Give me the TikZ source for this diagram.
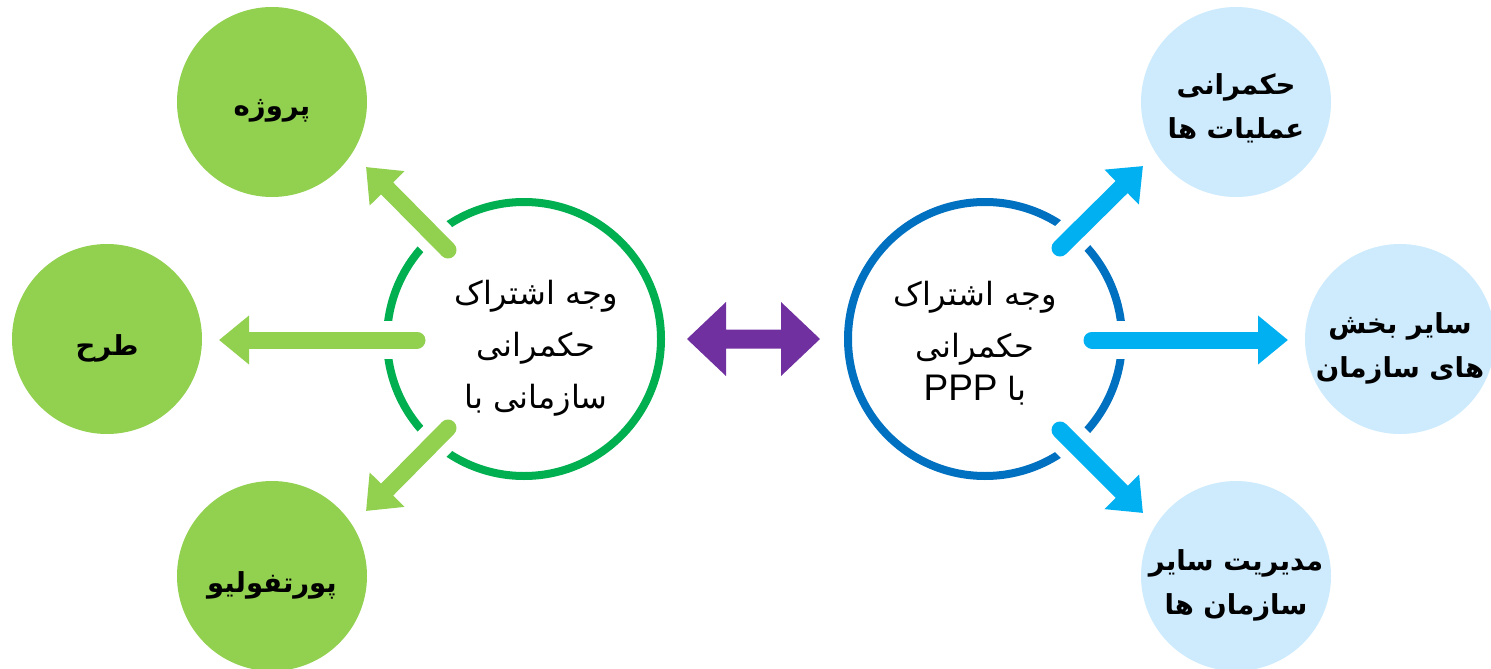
\documentclass[tikz,border=0pt]{standalone}
\usepackage{fontspec}
\usetikzlibrary{arrows.meta}
\TeXXeTstate=1
\newfontfamily\arabicfont[Script=Arabic]{DejaVu Sans}
\newfontfamily\latinfont{Liberation Sans}
\definecolor{lgreen}{HTML}{92D050}
\definecolor{rgreen}{HTML}{00B050}
\definecolor{rblue}{HTML}{0070C0}
\definecolor{ablue}{HTML}{00B0F0}
\definecolor{lblue}{HTML}{CDEBFD}
\definecolor{purp}{HTML}{7030A0}
\begin{document}
\begin{tikzpicture}[x=1pt,y=-1pt,
  ring/.style={circle, minimum size=274pt, inner sep=0pt, line width=8pt, fill=white},
  ringtext/.style={align=center, inner sep=0pt, font=\arabicfont\fontsize{32}{52}\selectfont},
  leaf/.style={circle, minimum size=190pt, inner sep=0pt},
  leaftext/.style={align=center, inner sep=0pt, font=\arabicfont\bfseries\fontsize{27.5}{44}\selectfont},
  gleaf/.style={leaf, fill=lgreen},
  bleaf/.style={leaf, fill=lblue},
  gapline/.style={draw=white, line width=38pt, shorten >=45pt},
  garrow/.style={draw=lgreen, line width=17pt, line cap=round, -{Triangle[length=30pt,width=47pt]}},
  barrow/.style={draw=ablue, line width=17pt, line cap=round, -{Triangle[length=30pt,width=47pt]}}
]
\useasboundingbox (0,0) rectangle (1491,669);
% small circles
\node[gleaf] (p1) at (272,102) {};
\node[gleaf] (p2) at (107,339) {};
\node[gleaf] (p3) at (272,576) {};
\node[bleaf] (q1) at (1236,102) {};
\node[bleaf] (q2) at (1400,339) {};
\node[bleaf] (q3) at (1236,576) {};
\node[leaftext] (p1t) at ([yshift=-9pt]p1.center) {\beginR پروژه\endR};
\node[leaftext] (p2t) at ([yshift=-9pt]p2.center) {\beginR طرح\endR};
\node[leaftext] (p3t) at ([yshift=-9pt]p3.center) {\beginR پورتفولیو\endR};
\node[leaftext] (q1t) at ([yshift=-6pt]q1.center) {\beginR حکمرانی\endR\\\beginR عملیات ها\endR};
\node[leaftext] (q2t) at ([yshift=-9pt]q2.center) {\beginR سایر بخش\endR\\\beginR های سازمان\endR};
\node[leaftext] (q3t) at ([yshift=-9pt]q3.center) {\beginR مدیریت سایر\endR\\\beginR سازمان ها\endR};
% rings
\node[ring, draw=rgreen] (L) at (524,339) {};
\node[ring, draw=rblue] (R) at (985,339) {};
\node[ringtext] (Lt) at ([xshift=12pt,yshift=-9pt]L.center) {\beginR وجه اشتراک\endR\\\beginR حکمرانی\endR\\\beginR سازمانی با\endR};
\node[ringtext] (Rt) at ([xshift=-10pt,yshift=-4pt]R.center) {\beginR وجه اشتراک\endR\\\beginR حکمرانی\endR\\[-9pt]\beginR با {\latinfont\fontsize{37}{40}\selectfont\beginL PPP\endL}\endR};
% arrow coordinates
\coordinate (l1s) at (448,250); \coordinate (l1e) at (366,167);
\coordinate (l2s) at (417,340); \coordinate (l2e) at (219,340);
\coordinate (l3s) at (448,428); \coordinate (l3e) at (366,511);
\coordinate (r1s) at (1060,248); \coordinate (r1e) at (1143,166);
\coordinate (r2s) at (1092,340); \coordinate (r2e) at (1288,340);
\coordinate (r3s) at (1060,430); \coordinate (r3e) at (1143,513);
\foreach \s/\e in {l1s/l1e,l2s/l2e,l3s/l3e,r1s/r1e,r2s/r2e,r3s/r3e}{\draw[gapline] (\s) -- (\e);}
\draw[garrow] (l1s) -- (l1e);
\draw[garrow] (l2s) -- (l2e);
\draw[garrow] (l3s) -- (l3e);
\draw[barrow] (r1s) -- (r1e);
\draw[barrow] (r2s) -- (r2e);
\draw[barrow] (r3s) -- (r3e);
% purple double arrow
\fill[purp] (687,339) -- (726,302) -- (726,329.5) -- (781,329.5) -- (781,302) -- (820,339)
  -- (781,376) -- (781,348.5) -- (726,348.5) -- (726,376) -- cycle;
\end{tikzpicture}
\end{document}
